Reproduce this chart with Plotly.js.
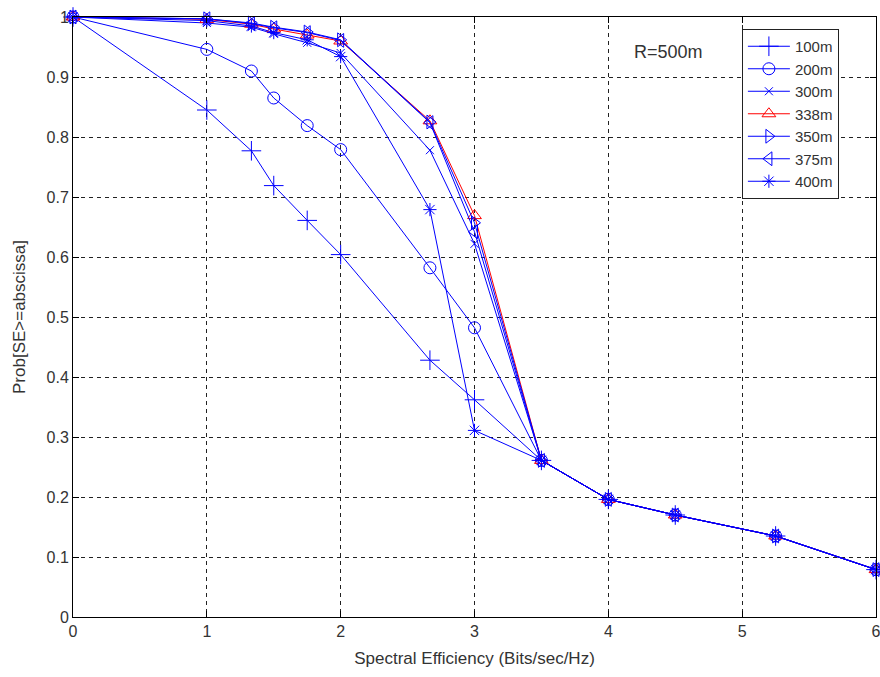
<!DOCTYPE html>
<html>
<head>
<meta charset="utf-8">
<script src="https://cdn.plot.ly/plotly-3.0.1.min.js"></script>
<style>html,body{margin:0;padding:0;background:#fff;}#chart{width:880px;height:677px;}</style>
</head>
<body>
<div id="chart"></div>
<script>
const xs = [0, 1, 1.333, 1.5, 1.75, 2, 2.667, 3, 3.5, 4, 4.5, 5.25, 6];
const seriesNames = ["100m", "200m", "300m", "338m", "350m", "375m", "400m"];
const p100 = [1, 0.845, 0.777, 0.719, 0.661, 0.604, 0.428, 0.362, 0.261, 0.196, 0.170, 0.135, 0.079];
const p200 = [1, 0.946, 0.910, 0.865, 0.819, 0.779, 0.582, 0.482, 0.261, 0.196, 0.170, 0.135, 0.079];
const p300 = [1, 0.990, 0.983, 0.972, 0.957, 0.940, 0.778, 0.622, 0.261, 0.196, 0.170, 0.135, 0.079];
const p338 = [1, 0.996, 0.988, 0.980, 0.970, 0.960, 0.827, 0.669, 0.261, 0.196, 0.170, 0.135, 0.079];
const p350 = [1, 0.997, 0.990, 0.983, 0.975, 0.962, 0.825, 0.657, 0.261, 0.196, 0.170, 0.135, 0.079];
const p375 = [1, 0.997, 0.989, 0.982, 0.974, 0.961, 0.824, 0.642, 0.261, 0.196, 0.170, 0.135, 0.079];
const p400 = [1, 0.994, 0.985, 0.974, 0.962, 0.934, 0.679, 0.311, 0.261, 0.196, 0.170, 0.135, 0.079];
const xTicks = [0, 1, 2, 3, 4, 5, 6];
const yTicks = [0, 0.1, 0.2, 0.3, 0.4, 0.5, 0.6, 0.7, 0.8, 0.9, 1];
const yTickText = ["0", "0.1", "0.2", "0.3", "0.4", "0.5", "0.6", "0.7", "0.8", "0.9", "1"];

const values = [p100, p200, p300, p338, p350, p375, p400];
const symbols = ["cross-thin-open", "circle-open", "x-thin-open", "triangle-up-open", "triangle-right-open", "triangle-left-open", "asterisk-open"];
const colors = ["#0000ff", "#0000ff", "#0000ff", "#ff0000", "#0000ff", "#0000ff", "#0000ff"];
const sizes = [14, 12, 8, 12, 12, 12, 11];

const traces = values.map((v, i) => ({
  x: xs, y: v, name: seriesNames[i], type: "scatter", mode: "lines+markers", cliponaxis: false,
  line: {color: colors[i], width: 1},
  marker: {symbol: symbols[i], size: sizes[i], color: colors[i], line: {color: colors[i], width: 1}}
}));

const ff = "Liberation Sans, Arial, sans-serif";
const txt = "#333";
const layout = {
  width: 880, height: 677,
  margin: {l: 73, r: 4, t: 17, b: 60},
  paper_bgcolor: "#fff", plot_bgcolor: "#fff",
  font: {family: ff, size: 16, color: txt},
  showlegend: true,
  legend: {x: 0.833, y: 0.98, xanchor: "left", yanchor: "top", bgcolor: "#fff",
    bordercolor: "#222", borderwidth: 1, font: {family: ff, size: 15, color: txt},
    tracegroupgap: 0, itemwidth: 42},
  xaxis: {range: [0, 6], tickvals: xTicks, ticktext: xTicks.map(String),
    tickfont: {family: ff, size: 16, color: txt}, ticklabeloverflow: "allow",
    showgrid: true, gridcolor: "#222", griddash: "4px,4px", gridwidth: 1,
    zeroline: false, showline: true, linecolor: "#000", linewidth: 1, mirror: "allticks",
    ticks: "inside", ticklen: 6, tickcolor: "#000",
    title: {text: "Spectral Efficiency (Bits/sec/Hz)", font: {family: ff, size: 17, color: txt}, standoff: 12}},
  yaxis: {range: [0, 1], tickvals: yTicks, ticktext: yTickText,
    tickfont: {family: ff, size: 16, color: txt},
    showgrid: true, gridcolor: "#222", griddash: "4px,4px", gridwidth: 1,
    zeroline: false, showline: true, linecolor: "#000", linewidth: 1, mirror: "allticks",
    ticks: "inside", ticklen: 6, tickcolor: "#000",
    title: {text: "Prob[SE>=abscissa]", font: {family: ff, size: 17, color: txt}, standoff: 16}},
  annotations: [{x: 4.18, y: 0.941, xref: "x", yref: "y", xanchor: "left", yanchor: "middle",
    text: "R=500m", showarrow: false, font: {family: ff, size: 18, color: txt}}]
};
Plotly.newPlot("chart", traces, layout, {displayModeBar: false, staticPlot: true});
</script>
</body>
</html>
